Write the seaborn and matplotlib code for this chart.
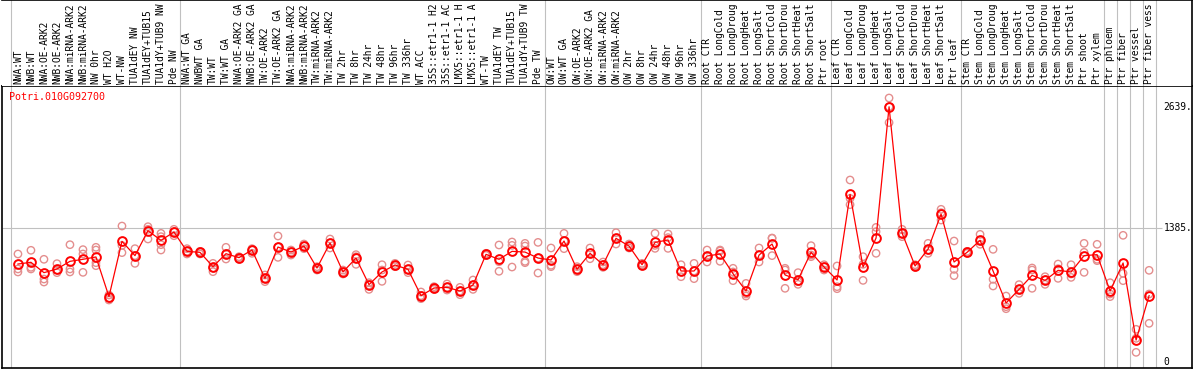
import numpy as np
import pandas as pd
import matplotlib
matplotlib.use('Agg')
import matplotlib.pyplot as plt
import seaborn as sns

# sample names (truncated as on the chart)
samples = [
    'NWA:WT', 'NWB:WT', 'NWA:OE-ARK2', 'NWB:OE-ARK2', 'NWA:miRNA-ARK2', 'NWB:miRNA-ARK2',
    'NW 0hr', 'WT H2O', 'WT-NW', 'TUA1dEY NW', 'TUA1dEY+TUB15', 'TUA1dY+TUB9 NW', 'Pde NW',
    'NWA:WT GA', 'NWBWT GA', 'TW:WT', 'TW:WT GA', 'NWA:OE-ARK2 GA', 'NWB:OE-ARK2 GA',
    'TW:OE-ARK2', 'TW:OE-ARK2 GA', 'NWA:miRNA-ARK2', 'NWB:miRNA-ARK2', 'TW:miRNA-ARK2',
    'TW:miRNA-ARK2', 'TW 2hr', 'TW 8hr', 'TW 24hr', 'TW 48hr', 'TW 96hr', 'TW 336hr',
    'WT ACC', '35S::etr1-1 H2', '35S::etr1-1 AC', 'LMX5::etr1-1 H', 'LMX5::etr1-1 A',
    'WT-TW', 'TUA1dEY TW', 'TUA1dEY+TUB15', 'TUA1dY+TUB9 TW', 'Pde TW',
    'OW:WT', 'OW:WT GA', 'OW:OE-ARK2', 'OW:OE-ARK2 GA', 'OW:miRNA-ARK2', 'OW:miRNA-ARK2',
    'OW 2hr', 'OW 8hr', 'OW 24hr', 'OW 48hr', 'OW 96hr', 'OW 336hr',
    'Root CTR', 'Root LongCold', 'Root LongDroug', 'Root LongHeat', 'Root LongSalt',
    'Root ShortCold', 'Root ShortDrou', 'Root ShortHeat', 'Root ShortSalt', 'Ptr root',
    'Leaf CTR', 'Leaf LongCold', 'Leaf LongDroug', 'Leaf LongHeat', 'Leaf LongSalt',
    'Leaf ShortCold', 'Leaf ShortDrou', 'Leaf ShortHeat', 'Leaf ShortSalt', 'Ptr leaf',
    'Stem CTR', 'Stem LongCold', 'Stem LongDroug', 'Stem LongHeat', 'Stem LongSalt',
    'Stem ShortCold', 'Stem ShortDrou', 'Stem ShortHeat', 'Stem ShortSalt', 'Ptr shoot',
    'Ptr xylem', 'Ptr phloem', 'Ptr fiber', 'Ptr vessel', 'Ptr fiber vess',
]

# mean expression per sample
means = [
    1013, 1031, 924, 962, 1041, 1062, 1086, 676, 1248, 1100, 1358, 1258, 1344,
    1144, 1134, 986, 1120, 1079, 1158, 865, 1189, 1137, 1199, 972, 1230, 931, 1075,
    800, 931, 1003, 958, 686, 765, 772, 734, 796, 1113, 1062, 1144, 1137, 1075,
    1055, 1251, 958, 1124, 1006, 1279, 1199, 1006, 1237, 1262, 941, 941,
    1096, 1117, 913, 734, 1106, 1220, 900, 851, 1134, 982,
    848, 1734, 982, 1282, 2639, 1334, 993, 1168, 1530, 1034,
    1134, 1258, 941, 610, 751, 896, 844, 948, 931, 1100, 1110,
    734, 1024, 227, 686,
]

# replicate values per sample
replicates = [
    [1117, 962, 931], [1155, 979, 962], [1062, 858, 827], [1017, 951, 924],
    [1213, 962, 931], [1162, 1117, 927], [1186, 1158, 1027, 996], [693, 658, 641],
    [1406, 1206, 1131], [1172, 1100, 1020], [1399, 1372, 1272], [1330, 1296, 1213, 1158],
    [1372, 1348, 1306], [1172, 1144, 1117], [1144, 1134, 1117], [1020, 972, 934],
    [1186, 1120, 1065], [1089, 1079, 1062], [1172, 1158, 1124], [900, 865, 831],
    [1303, 1189, 1082], [1158, 1137, 1106], [1220, 1199, 1172], [986, 972, 951],
    [1272, 1230, 1179], [951, 931, 910], [1110, 1089, 1010], [820, 796, 751],
    [1006, 951, 834], [1020, 1000, 986], [1003, 958, 924], [724, 686, 655],
    [779, 765, 751], [807, 772, 744], [772, 734, 696], [848, 796, 751],
    [1124, 1113, 1103], [1210, 1037, 938], [1241, 1206, 982], [1227, 1199, 1041, 1027],
    [1237, 1075, 920], [1179, 1000, 986], [1330, 1251, 1172], [986, 958, 934],
    [1179, 1124, 1068], [1034, 1006, 979], [1337, 1279, 1220], [1220, 1199, 1179],
    [1020, 1006, 993], [1330, 1206, 1175], [1324, 1286, 1175], [1006, 934, 882],
    [1020, 941, 862], [1158, 1096, 1034], [1158, 1148, 1041], [969, 931, 841],
    [813, 703, 682], [1179, 1106, 1034], [1282, 1279, 1100], [969, 951, 762],
    [924, 831, 803], [1203, 1106, 1089], [1006, 982, 951], [993, 779, 758],
    [1882, 1692, 1627], [1089, 1010, 844], [1392, 1348, 1124], [2730, 2640, 2475],
    [1372, 1330, 1296], [1006, 993, 979], [1227, 1158, 1124], [1579, 1544, 1468],
    [1251, 958, 893], [1144, 1134, 1124], [1320, 1258, 1217], [1165, 855, 786],
    [682, 572, 551], [800, 751, 710], [972, 951, 762], [882, 848, 803],
    [1013, 965, 865], [1006, 910, 875], [1227, 1134, 927], [1217, 1062, 1048],
    [820, 703, 676], [1310, 917, 841], [338, 245, 100], [948, 703, 400],
]

# last sample index (1-based count) of each group
group_ends = [13, 41, 53, 63, 73, 84, 85, 86, 87, 88]
gene = 'Potri.010G092700'
ytick_vals = [2639, 1385, 0]
ytick_text = ['2639.', '1385.', '0']

plt.rcParams['font.family'] = ['DejaVu Sans Mono']

mean_df = pd.DataFrame({'idx': np.arange(len(samples)), 'value': means})
rep_df = pd.DataFrame(
    [(i, v) for i, reps in enumerate(replicates) for v in reps],
    columns=['idx', 'value'])

W, H = 1194, 370
fig = plt.figure(figsize=(W / 100, H / 100), dpi=100)
ax = fig.add_axes([1.7 / W, 2 / H, (1192 - 1.7) / W, 282 / H])
hdr = fig.add_axes([1.7 / W, 284 / H, (1192 - 1.7) / W, 86 / H], sharex=ax)

xlim = (-1.25, 90.3)
ax.set_xlim(*xlim)
ax.set_ylim(-62, 2854)

# group separators
bounds = [-0.5] + [e - 0.5 for e in group_ends]
for b in bounds:
    ax.axvline(b, color='#c0c0c0', lw=0.8, zorder=0)
    hdr.axvline(b, color='#c0c0c0', lw=0.8, zorder=0)
ax.hlines(1385, xlim[0], 88.0, color='#c0c0c0', lw=0.8, zorder=0)

sns.scatterplot(data=rep_df, x='idx', y='value', ax=ax, marker='o', s=28,
                facecolor='none', edgecolor='#e48e8e', linewidth=1.0, zorder=2,
                legend=False)
sns.lineplot(data=mean_df, x='idx', y='value', ax=ax, color='red', lw=0.9,
             marker='o', ms=6.3, mfc='none', mec='red', mew=1.4, zorder=3)

ax.set_xlabel('')
ax.set_ylabel('')
ax.set_xticks([])
ax.set_yticks([])
for s in ax.spines.values():
    s.set_color('black')
    s.set_linewidth(1.2)

for v, t in zip(ytick_vals, ytick_text):
    ax.text(88.1, v, t, ha='left', va='center', fontsize=6.9, color='black')

ax.text(7.3 / 1190, 1 - 11 / 282, gene, transform=ax.transAxes, ha='left',
        va='center', fontsize=7.2, color='red')

# header with rotated sample names
hdr.set_ylim(0, 86)
for i, name in enumerate(samples):
    hdr.text(i, 2, name, rotation=90, ha='center', va='bottom', fontsize=6.9,
             color='black')
hdr.set_yticks([])
hdr.tick_params(axis='x', bottom=False, labelbottom=False)
hdr.spines['left'].set_visible(False)
hdr.spines['bottom'].set_visible(False)
hdr.spines['top'].set_linewidth(1.2)
hdr.spines['right'].set_linewidth(1.2)

fig.savefig('out.png', dpi=100)
